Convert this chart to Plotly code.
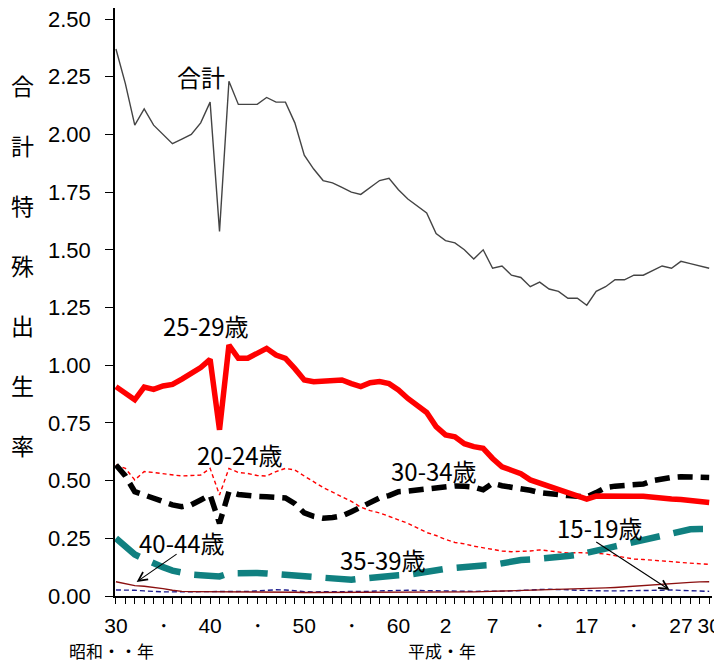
import plotly.graph_objects as go

years = list(range(1955, 2019))

total = [2.37, 2.22, 2.04, 2.11, 2.04, 2.00, 1.96, 1.98, 2.00, 2.05,
         2.14, 1.58, 2.23, 2.13, 2.13, 2.13, 2.16, 2.14, 2.14, 2.05,
         1.91, 1.85, 1.80, 1.79, 1.77, 1.75, 1.74, 1.77, 1.80, 1.81,
         1.76, 1.72, 1.69, 1.66, 1.57, 1.54, 1.53, 1.50, 1.46, 1.50,
         1.42, 1.43, 1.39, 1.38, 1.34, 1.36, 1.33, 1.32, 1.29, 1.29,
         1.26, 1.32, 1.34, 1.37, 1.37, 1.39, 1.39, 1.41, 1.43, 1.42,
         1.45, 1.44, 1.43, 1.42]

age_15_19 = [0.026, 0.026, 0.025, 0.022, 0.019, 0.018, 0.018, 0.018, 0.018, 0.018,
             0.018, 0.018, 0.018, 0.019, 0.020, 0.022, 0.025, 0.027, 0.026, 0.022,
             0.019, 0.018, 0.018, 0.018, 0.018, 0.018, 0.019, 0.020, 0.022, 0.024,
             0.025, 0.025, 0.024, 0.023, 0.022, 0.021, 0.020, 0.020, 0.020, 0.021,
             0.020, 0.021, 0.022, 0.025, 0.027, 0.028, 0.029, 0.029, 0.027, 0.025,
             0.023, 0.022, 0.022, 0.022, 0.022, 0.022, 0.022, 0.023, 0.025, 0.026,
             0.024, 0.021, 0.020, 0.020]

age_20_24 = [0.568, 0.553, 0.503, 0.539, 0.535, 0.529, 0.525, 0.520, 0.522, 0.524,
             0.553, 0.438, 0.553, 0.535, 0.531, 0.522, 0.520, 0.539, 0.553, 0.546,
             0.520, 0.495, 0.470, 0.450, 0.430, 0.410, 0.385, 0.370, 0.360, 0.345,
             0.330, 0.315, 0.295, 0.275, 0.262, 0.245, 0.232, 0.226, 0.216, 0.208,
             0.200, 0.195, 0.192, 0.192, 0.195, 0.200, 0.195, 0.190, 0.186, 0.188,
             0.188, 0.185, 0.182, 0.175, 0.165, 0.160, 0.158, 0.156, 0.152, 0.149,
             0.145, 0.142, 0.140, 0.137]

age_25_29 = [0.907, 0.880, 0.850, 0.905, 0.895, 0.910, 0.917, 0.940, 0.965, 0.990,
             1.025, 0.720, 1.087, 1.030, 1.030, 1.050, 1.073, 1.044, 1.030, 0.985,
             0.936, 0.928, 0.929, 0.935, 0.936, 0.920, 0.907, 0.924, 0.929, 0.920,
             0.893, 0.856, 0.828, 0.795, 0.734, 0.698, 0.690, 0.660, 0.647, 0.640,
             0.596, 0.560, 0.545, 0.530, 0.503, 0.490, 0.475, 0.460, 0.445, 0.433,
             0.420, 0.433, 0.432, 0.432, 0.428, 0.432, 0.432, 0.427, 0.425, 0.420,
             0.418, 0.414, 0.406, 0.405]

age_30_34 = [0.568, 0.520, 0.452, 0.438, 0.420, 0.405, 0.395, 0.387, 0.395, 0.416,
             0.438, 0.315, 0.452, 0.440, 0.433, 0.432, 0.430, 0.430, 0.425, 0.400,
             0.360, 0.345, 0.337, 0.340, 0.347, 0.365, 0.385, 0.410, 0.425, 0.435,
             0.452, 0.455, 0.459, 0.465, 0.466, 0.470, 0.477, 0.475, 0.472, 0.460,
             0.488, 0.478, 0.472, 0.466, 0.458, 0.448, 0.442, 0.438, 0.435, 0.432,
             0.430, 0.448, 0.470, 0.476, 0.481, 0.483, 0.485, 0.500, 0.508, 0.514,
             0.517, 0.517, 0.514, 0.513]

age_35_39 = [0.250, 0.215, 0.180, 0.160, 0.140, 0.125, 0.110, 0.100, 0.093, 0.090,
             0.090, 0.085, 0.098, 0.100, 0.100, 0.100, 0.098, 0.095, 0.090, 0.085,
             0.080, 0.077, 0.075, 0.073, 0.072, 0.070, 0.075, 0.080, 0.083, 0.086,
             0.090, 0.092, 0.100, 0.108, 0.113, 0.118, 0.122, 0.127, 0.130, 0.132,
             0.134, 0.142, 0.150, 0.156, 0.158, 0.160, 0.163, 0.168, 0.173, 0.178,
             0.185, 0.195, 0.205, 0.215, 0.225, 0.235, 0.245, 0.255, 0.264, 0.275,
             0.285, 0.289, 0.290, 0.290]

age_40_44 = [0.062, 0.055, 0.045, 0.042, 0.038, 0.032, 0.025, 0.020, 0.019, 0.019,
             0.019, 0.017, 0.017, 0.017, 0.016, 0.016, 0.016, 0.016, 0.016, 0.016,
             0.015, 0.015, 0.015, 0.015, 0.015, 0.015, 0.015, 0.015, 0.015, 0.015,
             0.015, 0.015, 0.016, 0.016, 0.016, 0.016, 0.017, 0.017, 0.018, 0.019,
             0.020, 0.022, 0.024, 0.025, 0.026, 0.027, 0.028, 0.029, 0.030, 0.031,
             0.032, 0.033, 0.035, 0.037, 0.040, 0.043, 0.046, 0.050, 0.053, 0.055,
             0.057, 0.059, 0.061, 0.062]

tick_years = [1955, 1960, 1965, 1970, 1975, 1980, 1985, 1990, 1995, 2000, 2005, 2010, 2015, 2018]
tick_text = ["30", "・", "40", "・", "50", "・", "60", "2", "7", "・", "17", "・", "27", "30"]

y_ticks = [0, 0.25, 0.5, 0.75, 1.0, 1.25, 1.5, 1.75, 2.0, 2.25, 2.5]
y_title_chars = ["合", "計", "特", "殊", "出", "生", "率"]

CJK = "Noto Sans CJK JP"
NUM = "Liberation Sans, Arial, sans-serif"

# page body has an 8px margin: figure sized so it fills the window
W, H = 714, 654
L, R, T, B = 107, 10, 0, 66
PW, PH = W - L - R, H - T - B


def px(x):
    return (x - 8 - L) / PW


def py(y):
    return 1 - (y - 8 - T) / PH


fig = go.Figure()

series = [
    ("合計", total, dict(color="#444444", width=1.4)),
    ("20-24歳", age_20_24, dict(color="#FF0000", width=1.4, dash="4px,3px")),
    ("15-19歳", age_15_19, dict(color="#1a1a8c", width=1.4, dash="5px,3px")),
    ("40-44歳", age_40_44, dict(color="#8B1010", width=1.4)),
    ("35-39歳", age_35_39, dict(color="#108080", width=6.5, dash="30px,14px")),
    ("30-34歳", age_30_34, dict(color="#000000", width=5.5, dash="15px,8px")),
    ("25-29歳", age_25_29, dict(color="#FF0000", width=5.5)),
]
for name, vals, line in series:
    fig.add_trace(go.Scatter(x=years, y=vals, mode="lines", name=name, line=line,
                             hoverinfo="skip"))

label_font = dict(family=CJK, size=24, color="#000000")
labels = [
    ("合計", 1964.0, 2.25),
    ("25-29歳", 1964.6, 1.17),
    ("20-24歳", 1968.2, 0.615),
    ("30-34歳", 1988.8, 0.545),
    ("40-44歳", 1962.0, 0.232),
    ("35-39歳", 1983.4, 0.158),
    ("15-19歳", 2006.4, 0.298),
]
for text, x, y in labels:
    fig.add_annotation(x=x, y=y, xref="x", yref="y", text=text, showarrow=False,
                       font=label_font, xanchor="center", yanchor="middle")

arrows = [
    (1957.2, 0.061, 1961.6, 0.186),
    (2013.8, 0.026, 2005.85, 0.238),
]
for hx, hy, tx, ty in arrows:
    fig.add_annotation(x=hx, y=hy, xref="x", yref="y", ax=tx, ay=ty,
                       axref="x", ayref="y", text="", showarrow=True,
                       arrowhead=5, arrowsize=1.6, arrowwidth=1.1,
                       arrowcolor="#000000", standoff=0)

for i, ch in enumerate(y_title_chars):
    fig.add_annotation(x=px(22), y=py(85 + i * 60), xref="paper", yref="paper",
                       text=ch, showarrow=False,
                       font=dict(family=CJK, size=23, color="#000000"),
                       xanchor="center", yanchor="middle")

fig.add_annotation(x=px(111), y=py(650), xref="paper", yref="paper",
                   text="昭和・・年", showarrow=False,
                   font=dict(family=CJK, size=17, color="#000000"),
                   xanchor="center", yanchor="middle")
fig.add_annotation(x=px(442), y=py(650), xref="paper", yref="paper",
                   text="平成・年", showarrow=False,
                   font=dict(family=CJK, size=17, color="#000000"),
                   xanchor="center", yanchor="middle")

fig.update_layout(
    width=W, height=H,
    margin=dict(l=L, r=R, t=T, b=B, pad=0),
    plot_bgcolor="white", paper_bgcolor="white",
    showlegend=False,
    font=dict(family=NUM, size=21, color="#000000"),
)
fig.update_xaxes(
    range=[1954.9, 2018.3], showgrid=False, zeroline=False,
    showline=True, linecolor="#000000", linewidth=1.5,
    tickmode="array", tickvals=tick_years, ticktext=tick_text,
    ticks="outside", ticklen=6, tickwidth=1.2, tickcolor="#000000",
    ticklabelstandoff=4, ticklabeloverflow="allow",
    tickfont=dict(family=NUM, size=21, color="#000000"),
    minor=dict(dtick=1, tick0=1955, ticks="outside", ticklen=6, tickwidth=1.2,
               tickcolor="#000000", showgrid=False),
)
fig.update_yaxes(
    range=[0, 2.5 * PH / (PH - 11)], showgrid=False, zeroline=False,
    showline=True, linecolor="#000000", linewidth=1.5,
    tickmode="array", tickvals=y_ticks, tickformat=".2f",
    ticks="outside", ticklen=8, tickwidth=1.2, tickcolor="#000000",
    ticklabelstandoff=10, ticklabeloverflow="allow",
    tickfont=dict(family=NUM, size=22, color="#000000"),
)

fig.write_html("out.html")
